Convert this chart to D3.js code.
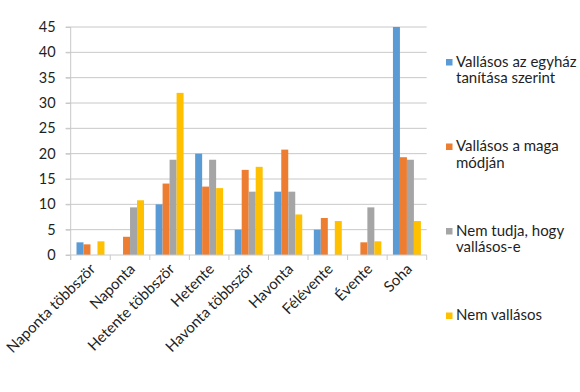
<!DOCTYPE html>
<html>
<head>
<meta charset="utf-8">
<script src="https://cdn.jsdelivr.net/npm/d3@7"></script>
<style>
  html, body { margin: 0; padding: 0; background: #fff; }
  svg { display: block; }
  text { font-family: Lato, "Liberation Sans", sans-serif; fill: #1f1f1f; }
</style>
</head>
<body>
<svg id="chart" width="580" height="392"></svg>
<script>
const categories = ["Naponta többször", "Naponta", "Hetente többször", "Hetente", "Havonta többször", "Havonta", "Félévente", "Évente", "Soha"];
const seriesNames = ["Vallásos az egyház tanítása szerint", "Vallásos a maga módján", "Nem tudja, hogy vallásos-e", "Nem vallásos"];
const legendLines = [["Vallásos az egyház", "tanítása szerint"], ["Vallásos a maga", "módján"], ["Nem tudja, hogy", "vallásos-e"], ["Nem vallásos"]];
const colors = ["#5B9BD5", "#ED7D31", "#A5A5A5", "#FFC000"];
const valsEgyhaz = [2.5, 0, 10, 20, 5, 12.5, 5, 0, 45];
const valsMaga = [2.1, 3.6, 14.1, 13.5, 16.8, 20.8, 7.3, 2.5, 19.3];
const valsNemTudja = [0, 9.4, 18.8, 18.8, 12.5, 12.5, 0, 9.4, 18.8];
const valsNem = [2.7, 10.8, 32, 13.2, 17.4, 8, 6.7, 2.7, 6.7];
const yTicks = [0, 5, 10, 15, 20, 25, 30, 35, 40, 45];

const seriesValues = [valsEgyhaz, valsMaga, valsNemTudja, valsNem];

const svg = d3.select("#chart");
const pLeft = 70.7, pRight = 426.7, pTop = 27, pBottom = 255;

const x0 = d3.scaleBand().domain(categories).range([pLeft, pRight]).paddingInner(0.293).paddingOuter(0.1465);
const x1 = d3.scaleBand().domain(d3.range(seriesNames.length)).range([0, x0.bandwidth()]);
const y = d3.scaleLinear().domain([0, 45]).range([pBottom, pTop]);

const gridColor = "#c8c8c8";

// gridlines
svg.append("g").selectAll("line").data(yTicks.filter(d => d > 0)).join("line")
  .attr("x1", pLeft - 5).attr("x2", pRight)
  .attr("y1", d => y(d)).attr("y2", d => y(d))
  .attr("stroke", gridColor).attr("stroke-width", 1);

// y axis
const yAxis = svg.append("g").attr("transform", `translate(${pLeft},0)`)
  .call(d3.axisLeft(y).tickValues(yTicks).tickSize(5).tickPadding(10));
yAxis.select(".domain").attr("stroke", gridColor).attr("d", `M0,${pTop}V${pBottom + 5}`);
yAxis.selectAll(".tick line").attr("stroke", gridColor);
yAxis.selectAll(".tick text").style("font-size", "14.5px").style("font-family", "Lato, 'Liberation Sans', sans-serif").attr("fill", "#1f1f1f");

// bars
const groups = svg.append("g").selectAll("g").data(categories).join("g")
  .attr("transform", d => `translate(${x0(d)},0)`);
groups.selectAll("rect")
  .data((d, i) => seriesValues.map((vals, s) => ({ s, v: vals[i] })))
  .join("rect")
  .attr("x", d => x1(d.s))
  .attr("width", x1.bandwidth())
  .attr("y", d => y(d.v))
  .attr("height", d => y(0) - y(d.v))
  .attr("fill", d => colors[d.s]);

// x axis line and ticks at boundaries
svg.append("line").attr("x1", pLeft - 5).attr("x2", pRight).attr("y1", pBottom).attr("y2", pBottom)
  .attr("stroke", gridColor);
const boundaries = d3.range(categories.length + 1).map(i => pLeft + i * x0.step());
svg.append("g").selectAll("line").data(boundaries).join("line")
  .attr("x1", d => d).attr("x2", d => d).attr("y1", pBottom).attr("y2", pBottom + 5)
  .attr("stroke", gridColor);

// x labels
svg.append("g").selectAll("text").data(categories).join("text")
  .attr("transform", d => `translate(${x0(d) + x0.bandwidth() / 2 + 6},${pBottom + 15}) rotate(-45)`)
  .attr("text-anchor", "end")
  .style("font-size", "15px")
  .text(d => d);

// legend
const legend = svg.append("g");
legendLines.forEach((lines, i) => {
  const by = 66.5 + i * 84.5;
  legend.append("rect").attr("x", 446).attr("y", by - 7.5).attr("width", 6.5).attr("height", 6.5).attr("fill", colors[i]);
  lines.forEach((ln, j) => {
    legend.append("text").attr("x", 456).attr("y", by + j * 16.7).style("font-size", "15px").text(ln);
  });
});
</script>
</body>
</html>
